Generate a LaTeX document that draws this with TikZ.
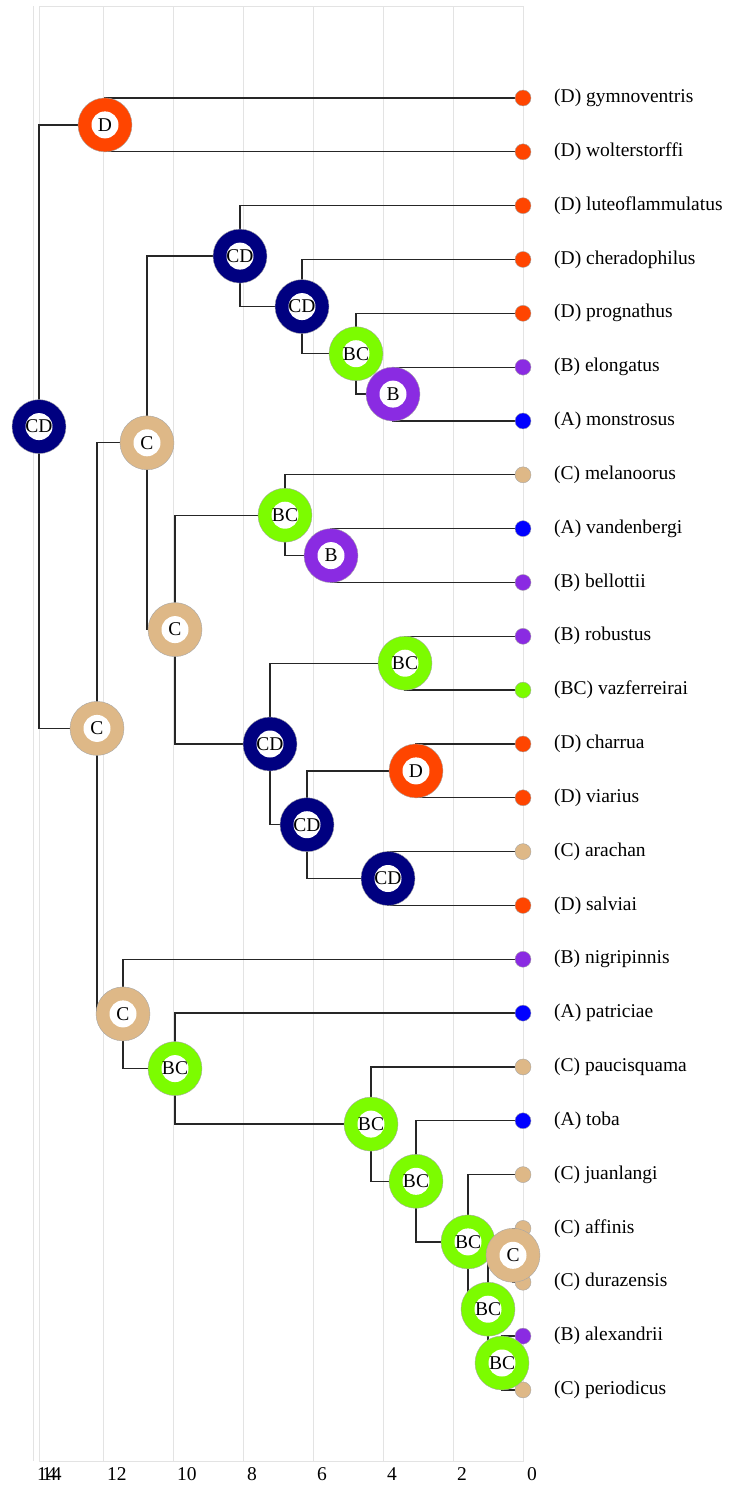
\documentclass[tikz,border=0pt]{standalone}
\usepackage{fontspec}
\setmainfont{Liberation Serif}
\usetikzlibrary{backgrounds}

\definecolor{stateA}{HTML}{0000FF}
\definecolor{stateB}{HTML}{8A2BE2}
\definecolor{stateC}{HTML}{DEB887}
\definecolor{stateBC}{HTML}{7CFC00}
\definecolor{stateCD}{HTML}{000080}
\definecolor{stateD}{HTML}{FF4500}

\tikzset{
  ancnode/.style={circle, draw=gray!70, line width=0.4pt, fill=#1, minimum size=54pt, inner sep=0pt,
    font=\fontsize{19.5}{22}\selectfont,
    path picture={\fill[white] (path picture bounding box.center) circle (13.5pt);}},
  leaf/.style={circle, draw=gray!70, line width=0.4pt, fill=#1, minimum size=16pt, inner sep=0pt},
  taxon/.style={anchor=west, inner sep=0pt, font=\fontsize{19.5}{22}\selectfont},
  branch/.style={line width=1.3pt, black!85},
  gridline/.style={gray!22, line width=0.8pt},
  ticklab/.style={anchor=west, inner sep=0pt, font=\fontsize{19.5}{22}\selectfont}
}

\begin{document}
\begin{tikzpicture}[x=1pt, y=-1pt]
\useasboundingbox (0,0) rectangle (728,1485);

% Grid and frame
\begin{pgfonlayer}{background}
\foreach \k in {0,...,7} {
    \draw[gridline] ({523-70*\k},6) -- ({523-70*\k},1461);
}
\draw[gridline] (39,6) rectangle (523,1461);
\end{pgfonlayer}

% Time axis
\foreach \k/\lab in {0/0, 1/2, 2/4, 3/6, 4/8, 5/10, 6/12, 7/14} {
    \node[ticklab] (tick\k) at ({527-70*\k},1474) {\lab};
}
\node[ticklab] (tickroot) at (42,1474) {14};

% Tips
\foreach \i/\st/\name in {0/D/gymnoventris, 1/D/wolterstorffi, 2/D/luteoflammulatus,
    3/D/cheradophilus, 4/D/prognathus, 5/B/elongatus, 6/A/monstrosus, 7/C/melanoorus,
    8/A/vandenbergi, 9/B/bellottii, 10/B/robustus, 11/BC/vazferreirai, 12/D/charrua,
    13/D/viarius, 14/C/arachan, 15/D/salviai, 16/B/nigripinnis, 17/A/patriciae,
    18/C/paucisquama, 19/A/toba, 20/C/juanlangi, 21/C/affinis, 22/C/durazensis,
    23/B/alexandrii, 24/C/periodicus} {
    \node[leaf=state\st] (t\i) at (523,{98+53.83*\i}) {};
    \node[taxon] (lab\i) at (554,{98+53.83*\i}) {(\st) \name};
}

% Ancestral states
\foreach \n/\x/\y/\st in {root/39/426.6/CD, nD1/105/124.9/D, nC3/97/728.4/C,
    nC1/147/442.8/C, nCD2/240/256.1/CD, nCD3/302/306.6/CD, nBC1/356/353.7/BC,
    nB1/393/394.1/B, nC2/175/629.6/C, nBC2/285/515.2/BC, nB2/331/555.6/B,
    nCD4/270/744/CD, nBC3/405/663.2/BC, nCD5/307/824.7/CD, nD2/416/770.9/D,
    nCD6/388/878.5/CD, nC4/123/1013.9/C, nBC4/175/1068.6/BC, nBC5/371/1124.1/BC,
    nBC6/416/1181.3/BC, nBC7/468/1241.9/BC, nBC8/488/1309.2/BC, nC5/513/1255.3/C,
    nBC9/502/1363/BC} {
    \node[ancnode=state\st] (\n) at (\x,\y) {\st};
}

% Branches
\begin{pgfonlayer}{background}
\foreach \p/\c in {root/nD1, root/nC3, nD1/t0, nD1/t1, nC3/nC1, nC3/nC4,
    nC1/nCD2, nC1/nC2, nCD2/t2, nCD2/nCD3, nCD3/t3, nCD3/nBC1, nBC1/t4, nBC1/nB1,
    nB1/t5, nB1/t6, nC2/nBC2, nC2/nCD4, nBC2/t7, nBC2/nB2, nB2/t8, nB2/t9,
    nCD4/nBC3, nCD4/nCD5, nBC3/t10, nBC3/t11, nCD5/nD2, nCD5/nCD6, nD2/t12, nD2/t13,
    nCD6/t14, nCD6/t15, nC4/t16, nC4/nBC4, nBC4/t17, nBC4/nBC5, nBC5/t18, nBC5/nBC6,
    nBC6/t19, nBC6/nBC7, nBC7/t20, nBC7/nBC8, nBC8/nC5, nBC8/nBC9, nC5/t21, nC5/t22,
    nBC9/t23, nBC9/t24} {
    \draw[branch] (\p.center) |- (\c.center);
}
\end{pgfonlayer}
\end{tikzpicture}
\end{document}
